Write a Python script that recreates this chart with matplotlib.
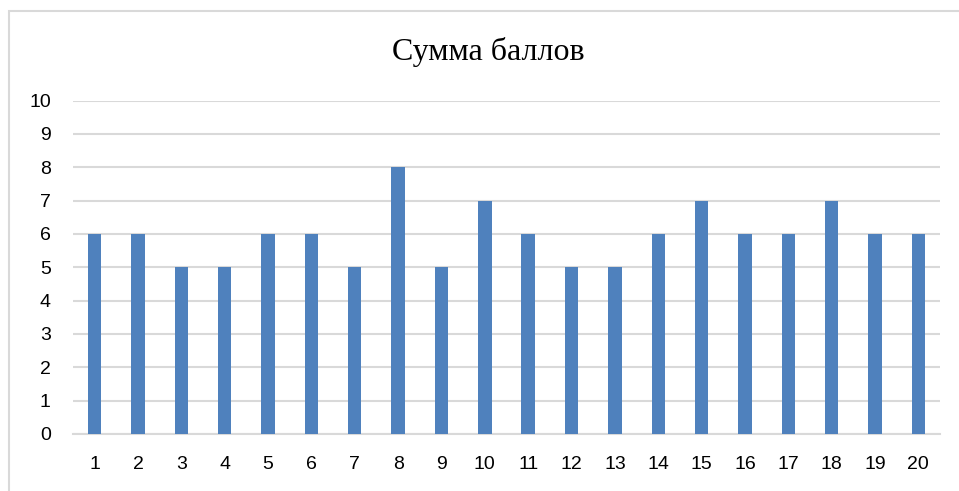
import matplotlib.pyplot as plt
from matplotlib.patches import Rectangle

# данные
categories = [str(i) for i in range(1, 21)]
scores = [6, 6, 5, 5, 6, 6, 5, 8, 5, 7, 6, 5, 5, 6, 7, 6, 6, 7, 6, 6]
yticks = list(range(0, 11))

fig = plt.figure(figsize=(9.59, 4.91), dpi=100, facecolor='white')

# рамка области диаграммы (видны только левая и верхняя стороны)
fig.patches.append(Rectangle((9 / 959, -0.1), 1.2, 1 - 11 / 491 + 0.1,
                             transform=fig.transFigure, fill=False,
                             edgecolor='#D9D9D9', linewidth=1.5))

ax = fig.add_axes([73 / 959, 1 - 434 / 491, (940 - 73) / 959, (434 - 100.5) / 491])
pos = range(len(categories))
ax.bar(pos, scores, width=0.31, color='#4F81BD', zorder=3)

ax.set_xlim(-0.5, len(categories) - 0.5)
ax.set_ylim(0, 10)
ax.set_yticks(yticks)
ax.set_xticks(list(pos))
ax.set_xticklabels(categories)
ax.grid(axis='y', color='#D9D9D9', linewidth=1.5, zorder=0)
for s in ['top', 'right', 'left']:
    ax.spines[s].set_visible(False)
ax.spines['bottom'].set_color('#D9D9D9')
ax.spines['bottom'].set_linewidth(1.5)
ax.tick_params(length=0, labelsize=14, colors='black')
ax.tick_params(axis='y', pad=16)
ax.tick_params(axis='x', pad=16)
for lbl in ax.get_xticklabels() + ax.get_yticklabels():
    lbl.set_fontfamily('Liberation Sans')

fig.text(488 / 959, 1 - 52 / 491, 'Сумма баллов', ha='center', va='center',
         fontsize=23, family='Liberation Serif')

fig.savefig('out.png', dpi=100)
